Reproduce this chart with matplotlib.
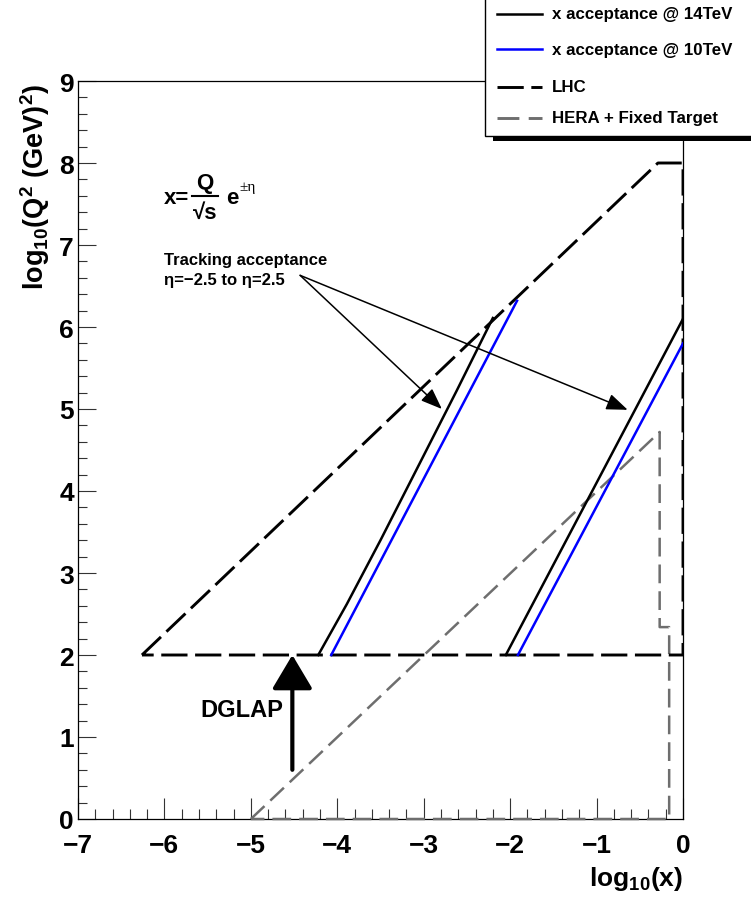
import matplotlib
matplotlib.use("Agg")
import matplotlib.pyplot as plt
from matplotlib.patches import Rectangle
from matplotlib.lines import Line2D

plt.rcParams['font.family'] = ['Liberation Sans', 'DejaVu Sans']
plt.rcParams['font.weight'] = 'bold'
plt.rcParams['mathtext.fontset'] = 'custom'
plt.rcParams['mathtext.rm'] = 'Liberation Sans:bold'
plt.rcParams['mathtext.bf'] = 'Liberation Sans:bold'
plt.rcParams['mathtext.it'] = 'Liberation Sans:bold'
plt.rcParams['mathtext.sf'] = 'Liberation Sans:bold'

# ---- data (log10 x, log10 Q^2) ----
acc14_lo_x = [-4.22, -3.89, -3.50, -3.05, -2.62, -2.20]
acc14_lo_y = [2.0, 2.62, 3.40, 4.33, 5.22, 6.11]
acc10_lo_x = [-4.07, -1.92]
acc10_lo_y = [2.0, 6.32]
acc14_hi_x = [-2.05, 0.0]
acc14_hi_y = [2.0, 6.1]
acc10_hi_x = [-1.91, 0.0]
acc10_hi_y = [2.0, 5.8]
lhc_x = [-6.26, -0.29, 0.0, 0.0, -6.26]
lhc_y = [2.0, 8.0, 8.0, 2.0, 2.0]
hera_x = [-5.0, -0.27, -0.27, -0.16, -0.16, -5.0]
hera_y = [0.0, 4.72, 2.34, 2.34, 0.0, 0.0]
legend_labels = ["x acceptance @ 14TeV", "x acceptance @ 10TeV", "LHC", "HERA + Fixed Target"]
xticks = [-7, -6, -5, -4, -3, -2, -1, 0]
yticks = [0, 1, 2, 3, 4, 5, 6, 7, 8, 9]

W, H = 751, 903
fig = plt.figure(figsize=(W / 100, H / 100), dpi=100)
ax = fig.add_axes([78 / W, (H - 820) / H, 605 / W, 738 / H])
ax.set_xlim(-7, 0)
ax.set_ylim(0, 9)

grey = '#6e6e6e'
lhc_dash = (9, 2.6)
hera_dash = (7.5, 3.2)

ax.plot(hera_x, hera_y, color=grey, lw=1.8, dashes=hera_dash, zorder=3, clip_on=False)
ax.plot(lhc_x, lhc_y, color='black', lw=2.1, dashes=lhc_dash, zorder=4)
ax.plot(acc14_lo_x, acc14_lo_y, color='black', lw=1.8, zorder=5)
ax.plot(acc14_hi_x, acc14_hi_y, color='black', lw=1.8, zorder=5)
ax.plot(acc10_lo_x, acc10_lo_y, color='#0000ff', lw=1.8, zorder=5)
ax.plot(acc10_hi_x, acc10_hi_y, color='#0000ff', lw=1.8, zorder=5)

# ticks
ax.set_xticks(xticks)
ax.set_yticks(yticks)
ax.set_xticks([v / 5 for v in range(-35, 1)], minor=True)
ax.set_yticks([v / 5 for v in range(0, 46)], minor=True)
ax.tick_params(which='both', direction='in', top=False, right=False, color='#333333', width=0.8)
ax.tick_params(axis='x', which='major', length=15, pad=10, labelsize=19)
ax.tick_params(axis='x', which='minor', length=7.5)
ax.tick_params(axis='y', which='major', length=13, pad=3, labelsize=19)
ax.tick_params(axis='y', which='minor', length=6.5)
for lab in ax.get_xticklabels() + ax.get_yticklabels():
    lab.set_fontweight('bold')
for sp in ax.spines.values():
    sp.set_linewidth(0.9)

# axis titles
fig.text(683 / W, 1 - 879 / H, r'$\mathrm{log_{10}(x)}$', ha='right', va='center', fontsize=19)
fig.text(35 / W, 1 - 84 / H, r'$\mathrm{log_{10}(Q^{2}\ (GeV)^{2})}$', ha='center', va='top',
         rotation=90, fontsize=19.5)

# formula x = Q/sqrt(s) e^{±eta}
def fx(px):
    return px / W

def fy(py):
    return 1 - py / H

fig.text(fx(164), fy(198), 'x=', ha='left', va='center', fontsize=16, fontweight='bold')
fig.text(fx(205), fy(183), 'Q', ha='center', va='center', fontsize=16, fontweight='bold')
fig.add_artist(Line2D([fx(192), fx(218)], [fy(197), fy(197)], color='black', lw=1.5))
fig.text(fx(205), fy(213), '\u221as', ha='center', va='center', fontsize=16, fontweight='bold')
fig.text(fx(226), fy(198), 'e', ha='left', va='center', fontsize=16, fontweight='bold')
fig.text(fx(239), fy(187), '\u00b1\u03b7', ha='left', va='center', fontsize=11,
         fontweight='normal', family=['Liberation Serif', 'DejaVu Serif'])

# tracking acceptance text and arrows
fig.text(fx(164), fy(260), 'Tracking acceptance', ha='left', va='center', fontsize=12, fontweight='bold')
fig.text(fx(164), fy(281), '\u03b7=\u22122.5 to \u03b7=2.5', ha='left', va='center', fontsize=12,
         fontweight='bold')
start = (-4.43, 6.63)
for end in [(-2.79, 5.0), (-0.64, 4.99)]:
    ax.annotate('', xy=end, xytext=start,
                arrowprops=dict(arrowstyle='-|>,head_length=1.3,head_width=0.5', lw=1.1,
                                color='black', shrinkA=0, shrinkB=0), zorder=6)

# DGLAP arrow
ax.annotate('', xy=(-4.52, 2.0), xytext=(-4.52, 0.6),
            arrowprops=dict(arrowstyle='-|>,head_length=2.1,head_width=1.25', lw=3.0,
                            color='black', shrinkA=0, shrinkB=0), zorder=6)
ax.text(-5.11, 1.33, 'DGLAP', ha='center', va='center', fontsize=17, fontweight='bold')

# legend (ROOT-style box with shadow, clipped at the canvas edge)
fig.add_artist(Rectangle((fx(493), fy(142)), 1.0, 0.5, facecolor='black', edgecolor='none', zorder=10))
fig.add_artist(Rectangle((fx(485), fy(137)), 1.0, 0.5, facecolor='white', edgecolor='black', lw=1.0,
                         zorder=11))
rows = [15, 50, 88, 119]
styles = [dict(color='black'), dict(color='#0000ff'),
          dict(color='black', dashes=lhc_dash), dict(color=grey, dashes=hera_dash)]
for r, lab, st in zip(rows, legend_labels, styles):
    lw = 2.1 if 'dashes' in st else 1.8
    fig.add_artist(Line2D([fx(497), fx(542)], [fy(r), fy(r)], lw=lw, zorder=12, **st))
    fig.text(fx(552), fy(r), lab, ha='left', va='center', fontsize=12.2, fontweight='bold', zorder=12)

fig.savefig('out.png', dpi=100)
